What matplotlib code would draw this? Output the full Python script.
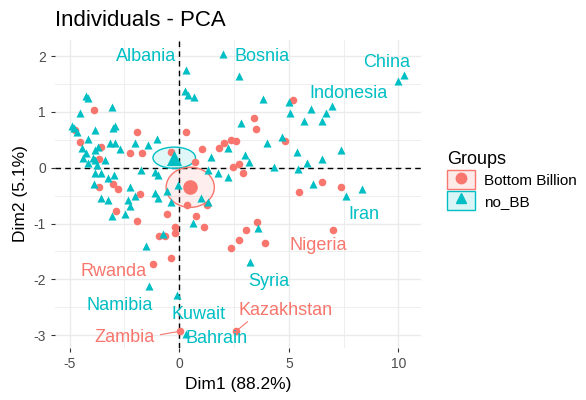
import matplotlib
matplotlib.use("Agg")
import matplotlib.pyplot as plt
from matplotlib.patches import Ellipse, Patch
from matplotlib.lines import Line2D
from matplotlib.legend_handler import HandlerTuple
from matplotlib.ticker import MultipleLocator

plt.rcParams["font.family"] = ["Liberation Sans", "DejaVu Sans"]

RED = "#F8766D"
CYAN = "#00BFC4"

# Bottom Billion countries (Dim1, Dim2)
bb_x = [-3.89, -1.91, -4.76, -4.53, -3.58, -2.26, -1.68, -3.67, -0.39,
        -3.67, -3.01, -2.79, -1.77, -2.90, -1.95, -0.55, -0.21, -0.18, -0.92, -0.67,
        5.17, 3.42, 3.50, 0.32, 2.36, 2.59, 2.03, 1.83, 1.03, 4.83, 2.74, 2.44, 0.70,
        2.89, 0.36, 1.27, 0.77, 1.15, 3.55, 3.05, 2.74, 2.36, 3.91, 5.47,
        6.49, 7.36, 7.01, -1.20, -0.39, 2.59, 0.02]
bb_y = [1.04, 0.65, 0.68, 0.47, 0.37, 0.26, 0.26, 0.16, 0.29,
        -0.35, -0.29, -0.38, -0.47, -0.77, -0.95, -0.83, -1.07, -1.17, -1.23, -1.22,
        1.21, 0.90, 0.69, 0.65, 0.50, 0.48, 0.44, 0.35, 0.34, 0.48, 0.07, 0.01, 0.10,
        -0.10, -0.66, -0.66, -0.86, -1.07, -0.97, -1.11, -1.29, -1.44, -1.34, -0.44,
        -0.26, -0.35, -1.11, -1.72, -1.62, -2.93, -2.93]

# other countries
nobb_x = [-4.27, -4.15, -3.05, -4.53, -4.91, -4.79, -4.68, -3.85, -2.94, -3.01,
          -4.15, -2.03, -1.00, -1.42, -3.17, -2.94, -2.71, -3.70, -3.85, -4.42,
          -4.27, -4.38, -3.92, -3.85, -3.39, -4.18, -3.77,
          -3.85, -3.55, -3.24, -2.97, -1.73, -1.12, -0.97, -3.88, -2.26, -3.55,
          -3.24, -2.36, -2.00, -1.12, -0.97, -0.36, -2.26, -3.09, -2.49, -0.74,
          -1.50, -0.55,
          0.24, 0.42, 0.67, 3.80, 5.01, 5.05, 2.82, 4.00, 4.68, 2.21, 1.45, 3.00,
          3.20, 5.36, 4.33,
          1.76, 2.24, 1.33, -0.08, 1.00, 1.33, 0.62, 3.60,
          10.27, 9.97, 6.00, 6.68, 6.98, 5.70, 6.49, 5.85, 6.49, 7.36, 5.42, 6.12,
          7.59, 8.32,
          1.98, 0.29, 2.74, 3.24, -1.38, -0.09, 0.32]
nobb_y = [1.28, 1.25, 1.09, 0.99, 0.75, 0.71, 0.65, 0.68, 0.74, 0.71,
          0.51, 0.44, 0.51, 0.41, 0.44, 0.44, 0.33, 0.38, 0.32, 0.35,
          0.26, 0.17, 0.17, 0.14, 0.14, 0.08, 0.05,
          -0.10, -0.10, -0.19, -0.13, -0.04, -0.07, -0.13, -0.29, -0.35, -0.54,
          -0.57, -0.57, -0.51, -0.45, -0.54, -0.62, -0.69, -0.86, -0.82, -1.18,
          -1.40, -0.42,
          1.37, 1.31, 1.27, 1.24, 1.17, 0.98, 0.80, 0.45, 0.55, 0.35, 0.20, 0.23,
          0.10, 0.29, 0.01,
          -0.10, -0.17, -0.04, -0.30, -0.54, -0.62, -0.99, -1.08,
          1.67, 1.55, 1.05, 0.98, 1.11, 0.83, 0.83, 0.08, 0.16, 0.32, -0.02, -0.29,
          -0.51, -0.38,
          2.04, 1.76, 1.64, -1.69, -2.11, -2.28, -2.98]

# group centres and concentration ellipses
bb_mean = (0.50, -0.35)
nobb_mean = (-0.23, 0.18)
bb_ell = (2.2, 0.72)
nobb_ell = (1.94, 0.38)

# labelled countries: name, text position, group
names = ["Albania", "Bosnia", "China", "Indonesia", "Iran", "Nigeria", "Syria",
         "Kazakhstan", "Bahrain", "Kuwait", "Zambia", "Namibia", "Rwanda"]
name_x = [-1.5, 3.77, 9.45, 7.73, 8.41, 6.36, 4.09, 4.86, 1.68, 0.86, -2.5, -2.73, -3.0]
name_y = [1.99, 1.99, 1.88, 1.33, -0.84, -1.40, -2.04, -2.56, -3.06, -2.63, -3.05, -2.46, -1.86]
name_grp = ["no", "no", "no", "no", "no", "bb", "no", "bb", "no", "no", "bb", "no", "bb"]
seg_names = {"Zambia": (0.02, -2.93), "Kazakhstan": (2.59, -2.93)}

fig = plt.figure(figsize=(5.86, 4.0), dpi=100)
ax = fig.add_axes([55 / 586, 1 - 348 / 400, (421 - 55) / 586, (348 - 40) / 400])

ax.set_xlim(-5.67, 11.03)
ax.set_ylim(-3.23, 2.29)
ax.xaxis.set_major_locator(MultipleLocator(5))
ax.xaxis.set_minor_locator(MultipleLocator(2.5))
ax.yaxis.set_major_locator(MultipleLocator(1))
ax.yaxis.set_minor_locator(MultipleLocator(0.5))
ax.grid(which="major", color="#EBEBEB", lw=1.0)
ax.grid(which="minor", color="#EBEBEB", lw=0.6)
ax.set_axisbelow(True)
for s in ax.spines.values():
    s.set_visible(False)
ax.tick_params(which="major", length=3, color="#333333", labelcolor="#4D4D4D", labelsize=10)
ax.tick_params(which="minor", length=0)
ax.set_xticks([-5, 0, 5, 10])
ax.set_xticklabels(["-5", "0", "5", "10"])
ax.set_yticks([-3, -2, -1, 0, 1, 2])
ax.set_yticklabels(["-3", "-2", "-1", "0", "1", "2"])

ax.axhline(0, color="black", lw=1, ls=(0, (4, 3)), zorder=1)
ax.axvline(0, color="black", lw=1, ls=(0, (4, 3)), zorder=1)

ax.add_patch(Ellipse(nobb_mean, nobb_ell[0], nobb_ell[1], facecolor=CYAN, alpha=0.12, zorder=2))
ax.add_patch(Ellipse(nobb_mean, nobb_ell[0], nobb_ell[1], facecolor="none", edgecolor=CYAN, lw=1, zorder=2))
ax.add_patch(Ellipse(bb_mean, bb_ell[0], bb_ell[1], facecolor=RED, alpha=0.12, zorder=2))
ax.add_patch(Ellipse(bb_mean, bb_ell[0], bb_ell[1], facecolor="none", edgecolor=RED, lw=1, zorder=2))

ax.scatter(bb_x, bb_y, s=30, marker="o", color=RED, lw=0, zorder=3)
ax.scatter(nobb_x, nobb_y, s=34, marker="^", color=CYAN, lw=0, zorder=3)
ax.scatter([bb_mean[0]], [bb_mean[1]], s=110, marker="o", color=RED, lw=0, zorder=4)
ax.scatter([nobb_mean[0]], [nobb_mean[1]], s=120, marker="^", color=CYAN, lw=0, zorder=4)

for n, tx, ty, g in zip(names, name_x, name_y, name_grp):
    col = RED if g == "bb" else CYAN
    ax.text(tx, ty, n, color=col, fontsize=13, ha="center", va="center", zorder=5)
    if n in seg_names:
        px, py = seg_names[n]
        sx = tx + (1.65 if n == "Zambia" else -1.75)
        sy = ty + (0.06 if n == "Zambia" else -0.2)
        ax.plot([sx, px], [sy, py], color=col, lw=0.8, zorder=4)

ax.set_xlabel("Dim1 (88.2%)", fontsize=12.5, color="black", labelpad=4)
ax.set_ylabel("Dim2 (5.1%)", fontsize=12.5, color="black", labelpad=4)
fig.text(55 / 586, 1 - 20 / 400, "Individuals - PCA", fontsize=16, ha="left", va="center")

h_bb = (Patch(facecolor=RED, edgecolor=RED, alpha=0.15, lw=0),
        Patch(facecolor="none", edgecolor=RED, lw=1),
        Line2D([], [], marker="o", ls="none", color=RED, markersize=7.5))
h_no = (Patch(facecolor=CYAN, edgecolor=CYAN, alpha=0.15, lw=0),
        Patch(facecolor="none", edgecolor=CYAN, lw=1),
        Line2D([], [], marker="^", ls="none", color=CYAN, markersize=7.5))
leg = fig.legend([h_bb, h_no], ["Bottom Billion", "no_BB"],
                 handler_map={tuple: HandlerTuple(ndivide=1, pad=0)},
                 loc="upper left", bbox_to_anchor=(444 / 586, 1 - 148 / 400),
                 frameon=False, title="Groups", fontsize=11, title_fontsize=13,
                 handlelength=1.8, handleheight=1.5, handletextpad=0.6,
                 labelspacing=0.15, borderaxespad=0, borderpad=0.2)
leg._legend_box.align = "left"

fig.savefig("out.png", dpi=100)
